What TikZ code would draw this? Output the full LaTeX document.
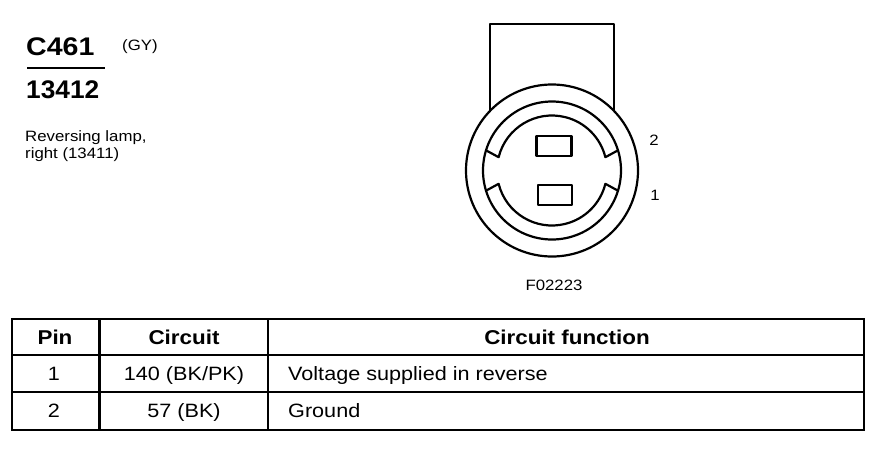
\documentclass[tikz,border=0pt]{standalone}
\usepackage{fontspec}
\setmainfont{Liberation Sans}[FakeStretch=1.12]
\usetikzlibrary{positioning}
\tikzstyle{part} = [draw, line width=2.2pt, line join=round]
\tikzstyle{tabline} = [draw, line width=2.4pt]
\tikzstyle{bigtext} = [inner sep=0pt, anchor=base west, font=\fontsize{25.5}{30}\selectfont\bfseries]
\tikzstyle{smalltext} = [inner sep=0pt, anchor=base, font=\fontsize{15}{18}\selectfont]
\tikzstyle{cell} = [inner sep=0pt, anchor=base, font=\fontsize{19.3}{23}\selectfont]
\tikzstyle{cellhead} = [cell, font=\fontsize{20}{24}\selectfont\bfseries]

\begin{document}
\begin{tikzpicture}[x=1pt, y=1pt]
    \useasboundingbox (0,0) rectangle (878,-448);
    % Place header text
    \node [bigtext] (conn) at (26,-55) {C461};
    \node [smalltext, anchor=base west] (colour) at (122,-50) {(GY)};
    \draw [line width=2pt] (27,-68) -- (105,-68);
    \node [bigtext, xscale=0.92, transform shape] (partno) at (26,-98) {13412};
    \node [smalltext, anchor=base west] (desc1) at (25,-141.7) {Reversing lamp,};
    \node [smalltext, anchor=base west] (desc2) at ([yshift=-16.6pt]desc1.base west) {right (13411)};
    % Draw connector face
    \coordinate (c) at (552,-170.5);
    \draw [part] (490,-111) |- (614,-24) -- (614,-111);
    \draw [part] (c) circle (86);
    \draw [part] (c) circle (69);
    \draw [part] ([shift={(163:69)}]c) -- ([shift={(166:55)}]c) arc (166:14:55) -- ([shift={(17:69)}]c);
    \draw [part] ([shift={(197:69)}]c) -- ([shift={(194:55)}]c) arc (194:346:55) -- ([shift={(343:69)}]c);
    \draw [part] (536.5,-136) rectangle (571.5,-156);
    \draw [part] (538,-185) rectangle (572,-205);
    \node [smalltext] (pintwo) at (654,-145) {2};
    \node [smalltext] (pinone) at (655,-200.7) {1};
    \node [smalltext] (figno) at (554,-290.7) {F02223};
    % Draw table
    \draw [tabline] (12,-319) rectangle (864,-430);
    \draw [tabline] (12,-355) -- (864,-355);
    \draw [tabline] (12,-392) -- (864,-392);
    \draw [tabline] (99.5,-319) -- (99.5,-430);
    \draw [tabline] (268,-319) -- (268,-430);
    % Place table text
    \node [cellhead] (hpin) at (55,-344) {Pin};
    \node [cellhead] (hcircuit) at (184,-344) {Circuit};
    \node [cellhead] (hfunction) at (567,-344) {Circuit function};
    \node [cell] (pin1) at (54,-380.5) {1};
    \node [cell] (circuit1) at (184,-380.5) {140 (BK/PK)};
    \node [cell, anchor=base west] (function1) at (288,-380.5) {Voltage supplied in reverse};
    \node [cell] (pin2) at (54,-417.5) {2};
    \node [cell] (circuit2) at (184,-417.5) {57 (BK)};
    \node [cell, anchor=base west] (function2) at (288,-417.5) {Ground};
\end{tikzpicture}
\end{document}
